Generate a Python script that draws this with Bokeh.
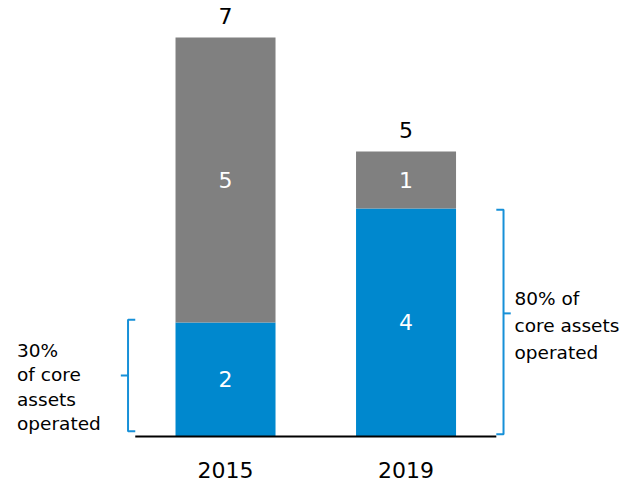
from bokeh.plotting import figure
from bokeh.models import Range1d, ColumnDataSource
from bokeh.core.properties import value
from bokeh.embed import file_html
from bokeh.resources import INLINE

years = ["2015", "2019"]
operated = [2, 4]
other = [5, 1]
totals = [7, 5]
notes = ["30%\nof core\nassets\noperated", "80% of\ncore assets\noperated"]

BLUE = "#0088CE"
GREY = "#808080"
BRACKET = "#1690D8"
FONT = value("DejaVu Sans")

xs = list(range(len(years)))
bw = 0.554

p = figure(width=620, height=482, output_backend="svg", toolbar_location=None,
           x_range=Range1d(-1.2465, 2.188), y_range=Range1d(-0.807, 7.649),
           min_border=0, outline_line_color=None)
p.axis.visible = False
p.grid.visible = False
p.background_fill_color = "white"

src = ColumnDataSource(dict(x=xs, year=years, op=operated, ot=other,
                            top1=[a + b for a, b in zip(operated, other)],
                            tot=[str(t) for t in totals],
                            opl=[str(v) for v in operated],
                            otl=[str(v) for v in other],
                            opmid=[v / 2 for v in operated],
                            otmid=[a + b / 2 for a, b in zip(operated, other)]))

p.vbar(x="x", bottom=0, top="op", width=bw, color=BLUE, line_color=None, source=src)
p.vbar(x="x", bottom="op", top="top1", width=bw, color=GREY, line_color=None, source=src)

# baseline
p.segment(x0=[xs[0] - 0.5], y0=[0], x1=[xs[-1] + 0.5], y1=[0], line_color="black", line_width=2)

# labels
p.text(x="x", y="opmid", text="opl", source=src, text_color="white", text_font=FONT,
       text_font_size="22px", text_align="center", text_baseline="middle")
p.text(x="x", y="otmid", text="otl", source=src, text_color="white", text_font=FONT,
       text_font_size="22px", text_align="center", text_baseline="middle")
p.text(x="x", y="top1", text="tot", source=src, text_color="black", text_font=FONT,
       text_font_size="22px", text_align="center", text_baseline="alphabetic", y_offset=-21)
p.text(x="x", y=0, text="year", source=src, text_color="black", text_font=FONT,
       text_font_size="22px", text_align="center", text_baseline="alphabetic", y_offset=33)

# brackets
off = 0.263
hook = 0.04
# left bracket (2015) opens to the right
lx = xs[0] - bw / 2 - off
lo, hi = 0.09, operated[0] + 0.05
lmid = (lo + hi) / 2
p.multi_line(xs=[[lx + hook, lx, lx, lx + hook], [lx, lx - hook]],
             ys=[[hi, hi, lo, lo], [lmid, lmid]], line_color=BRACKET, line_width=2)
# right bracket (2019) opens to the left
rx = xs[1] + bw / 2 + off
rlo, rhi = 0.04, operated[1] - 0.02
rmid = 2.16
p.multi_line(xs=[[rx - hook, rx, rx, rx - hook], [rx, rx + hook]],
             ys=[[rhi, rhi, rlo, rlo], [rmid, rmid]], line_color=BRACKET, line_width=2)

p.text(x=[lx], y=[lmid], text=[notes[0]], text_color="black", text_font=FONT,
       text_font_size="18.5px", text_align="left", text_baseline="top",
       x_offset=-111, y_offset=-36, text_line_height=1.17)
p.text(x=[rx], y=[rmid], text=[notes[1]], text_color="black", text_font=FONT,
       text_font_size="18.5px", text_align="left", text_baseline="top",
       x_offset=11, y_offset=-25, text_line_height=1.28)

open("out.html", "w").write(file_html(p, INLINE))
